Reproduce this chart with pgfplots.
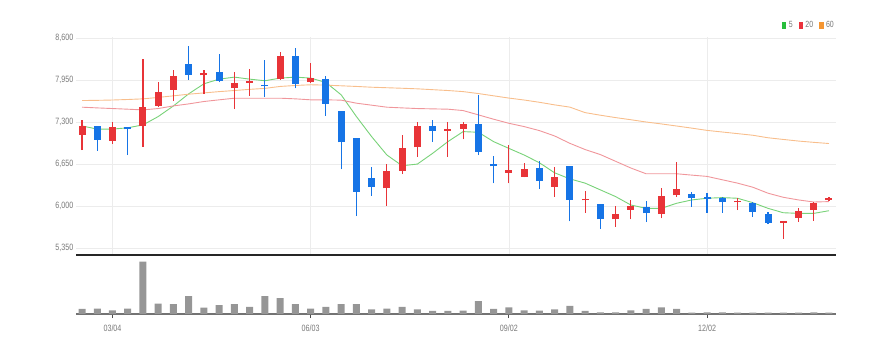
\documentclass[border=0pt]{standalone}
\usepackage{fontspec}
\setmainfont{Liberation Sans}
\usepackage{graphicx}
\usepackage{pgfplots}
\usepackage{pgfplotstable}
\pgfplotsset{compat=1.18}
\definecolor{cred}{RGB}{232,52,56}
\definecolor{cblue}{RGB}{22,116,230}
\definecolor{mgreen}{RGB}{120,210,120}
\definecolor{mpink}{RGB}{240,150,155}
\definecolor{morange}{RGB}{248,190,140}
\definecolor{lgreen}{RGB}{40,190,60}
\definecolor{lred}{RGB}{235,50,60}
\definecolor{lorange}{RGB}{245,150,50}
\definecolor{gridgray}{RGB}{236,236,236}
\definecolor{labgray}{RGB}{120,120,120}
\definecolor{volgray}{RGB}{150,150,150}
\newcommand\tlfont{\fontsize{9.2}{10}\selectfont}
\newcommand\lgfont{\fontsize{9}{10}\selectfont}

\pgfplotstableread{
x o h l c
0 7099 7332 6866 7239
2 7006 7296 6960 7218
4 7239 8274 6918 7539
5 7549 7922 7529 7767
6 7798 8108 7632 8015
8 8020 8108 7736 8057
10 7824 8072 7498 7901
11 7901 8119 7705 7927
13 7963 8377 7953 8315
15 7917 8212 7901 7974
20 6271 6649 6002 6540
21 6546 7094 6494 6903
22 6908 7301 6763 7239
24 7161 7301 6763 7192
25 7192 7301 7032 7265
28 6514 6944 6349 6551
29 6452 6659 6442 6577
31 6297 6602 6142 6442
33 6088 6234 5896 6109
35 5792 6000 5678 5870
36 5943 6094 5792 6005
38 5875 6286 5808 6156
39 6166 6676 6146 6260
43 6057 6130 5938 6078
46 5740 5761 5496 5761
47 5818 5964 5756 5927
48 5938 6068 5771 6042
49 6094 6135 6083 6120
}\redtab

\pgfplotstableread{
x o h l c
1 7239 7239 6856 7022
3 7218 7218 6789 7187
7 8196 8481 7953 8026
9 8067 8352 7912 7938
12 7876 8264 7694 7850
14 8326 8445 7824 7886
16 7963 8015 7394 7581
17 7472 7472 6566 6985
18 7058 7058 5842 6220
19 6427 6597 6157 6297
23 7239 7332 6996 7161
26 7265 7720 6789 6840
27 6654 6773 6349 6613
30 6592 6701 6261 6385
32 6623 6623 5764 6090
34 6031 6031 5652 5792
37 5990 6083 5750 5886
40 6187 6224 5990 6130
41 6135 6208 5896 6109
42 6120 6146 5896 6057
44 6042 6068 5834 5912
45 5875 5912 5719 5740
}\bluetab

\begin{document}
\begin{tikzpicture}
\path[use as bounding box] (0,0) rectangle (892bp,353bp);
\begin{axis}[
  at={(76bp,98bp)}, anchor=south west, scale only axis,
  width=760bp, height=218bp,
  xmin=-0.394, xmax=49.46, ymin=5242, ymax=8615,
  axis x line*=bottom, axis y line*=left,
  x axis line style={-, draw=black!85, line width=1.5bp},
  y axis line style={draw=none},
  xtick={2,15,28,41}, xticklabels={},
  ytick={5350,6000,6650,7300,7950,8600},
  scaled y ticks=false,
  major tick length=0pt,
  xmajorgrids, ymajorgrids,
  grid style={draw=gridgray, line width=0.7bp},
  y tick label style={font=\tlfont, text=labgray, xscale=0.78, inner sep=0pt, xshift=-3.3bp,
    /pgf/number format/1000 sep={,}, /pgf/number format/assume math mode=true},
  legend style={at={(1,1.055)}, anchor=east, draw=none, fill=none,
    legend columns=-1, font=\lgfont, text=labgray, inner sep=0pt,
    /tikz/every odd column/.append style={column sep=1bp},
    /tikz/every even column/.append style={column sep=4bp}},
  legend image code/.code={\fill[#1] (0bp,-3bp) rectangle (3.4bp,3bp);},
]
\addlegendimage{color=lgreen}
\addlegendentry{\scalebox{0.78}[1]{5}}
\addlegendimage{color=lred}
\addlegendentry{\scalebox{0.78}[1]{20}}
\addlegendimage{color=lorange}
\addlegendentry{\scalebox{0.78}[1]{60}}
\addplot[color=mgreen, line width=0.9bp, forget plot] coordinates {
(0,7239)(1,7190)(2,7190)(3,7210)(4,7255)(5,7384)(6,7549)(7,7736)(8,7891)(9,7963)
(10,7994)(11,7963)(12,7938)(13,7979)(14,7994)(15,7979)(16,7912)(17,7720)(18,7384)(19,7073)
(20,6789)(21,6623)(22,6649)(23,6815)(24,6996)(25,7151)(26,7141)(27,6996)(28,6892)(29,6789)
(30,6670)(31,6514)(32,6420)(33,6354)(34,6250)(35,6146)(36,6016)(37,5964)(38,5964)(39,6042)
(40,6094)(41,6120)(42,6130)(43,6120)(44,6052)(45,5964)(46,5896)(47,5886)(48,5886)(49,5927)};
\addplot[color=mpink, line width=0.9bp, forget plot] coordinates {
(0,7529)(1,7518)(2,7508)(3,7498)(4,7487)(5,7508)(6,7549)(7,7580)(8,7617)(9,7643)
(10,7668)(11,7668)(12,7668)(13,7668)(14,7658)(15,7643)(16,7643)(17,7638)(18,7591)(19,7560)
(20,7529)(21,7518)(22,7508)(23,7503)(24,7498)(25,7477)(26,7410)(27,7343)(28,7280)(29,7229)
(30,7167)(31,7084)(32,6970)(33,6874)(34,6796)(35,6692)(36,6588)(37,6499)(38,6499)(39,6499)
(40,6478)(41,6458)(42,6406)(43,6354)(44,6291)(45,6198)(46,6135)(47,6094)(48,6062)(49,6068)};
\addplot[color=morange, line width=0.9bp, forget plot] coordinates {
(0,7632)(1,7635)(2,7640)(3,7648)(4,7658)(5,7680)(6,7705)(7,7730)(8,7750)(9,7770)
(10,7787)(11,7805)(12,7820)(13,7850)(14,7865)(15,7876)(16,7870)(17,7860)(18,7850)(19,7838)
(20,7830)(21,7822)(22,7813)(23,7800)(24,7787)(25,7770)(26,7740)(27,7705)(28,7670)(29,7640)
(30,7605)(31,7565)(32,7530)(33,7445)(34,7405)(35,7368)(36,7335)(37,7300)(38,7270)(39,7238)
(40,7205)(41,7170)(42,7145)(43,7120)(44,7095)(45,7056)(46,7030)(47,7005)(48,6985)(49,6967)};
% wicks
\addplot[draw=none, mark=none, forget plot,
  error bars/.cd, y dir=plus, y explicit, error mark=none,
  error bar style={draw=cred, line width=1.1bp}]
  table[x=x, y=l, y error expr=\thisrow{h}-\thisrow{l}] {\redtab};
\addplot[draw=none, mark=none, forget plot,
  error bars/.cd, y dir=plus, y explicit, error mark=none,
  error bar style={draw=cblue, line width=1.1bp}]
  table[x=x, y=l, y error expr=\thisrow{h}-\thisrow{l}] {\bluetab};
% bodies
\addplot[draw=none, mark=none, forget plot,
  error bars/.cd, y dir=plus, y explicit, error mark=none,
  error bar style={draw=cred, line width=7bp}]
  table[x=x, y=o, y error expr={max(\thisrow{c}-\thisrow{o},24)}] {\redtab};
\addplot[draw=none, mark=none, forget plot,
  error bars/.cd, y dir=plus, y explicit, error mark=none,
  error bar style={draw=cblue, line width=7bp}]
  table[x=x, y=c, y error expr={max(\thisrow{o}-\thisrow{c},24)}] {\bluetab};
\end{axis}

\begin{axis}[
  at={(76bp,39bp)}, anchor=south west, scale only axis,
  width=760bp, height=58bp,
  xmin=-0.394, xmax=49.46, ymin=0, ymax=172,
  axis x line*=bottom, axis y line=none,
  x axis line style={-, draw=black!55, line width=1.5bp},
  xtick={2,15,28,41}, xticklabels={03/04,06/03,09/02,12/02},
  tick align=outside, major tick length=4bp,
  xtick style={draw=black!70, line width=0.8bp},
  x tick label style={font=\tlfont, text=labgray, xscale=0.78, yshift=-3bp},
]
\addplot[ybar, bar width=7bp, fill=volgray, draw=none] coordinates {
(0,15)(1,16)(2,11)(3,16)(4,155)(5,31)(6,29)(7,53)(8,19)(9,26)
(10,29)(11,21)(12,53)(13,47)(14,29)(15,16)(16,21)(17,29)(18,29)(19,14)
(20,16)(21,21)(22,14)(23,9)(24,9)(25,10)(26,38)(27,15)(28,20)(29,11)
(30,10)(31,14)(32,24)(33,9)(34,5)(35,5)(36,11)(37,15)(38,20)(39,15)
(40,4)(41,5)(42,5)(43,4)(44,4)(45,4)(46,4)(47,4)(48,5)(49,4)};
\end{axis}
\end{tikzpicture}
\end{document}
